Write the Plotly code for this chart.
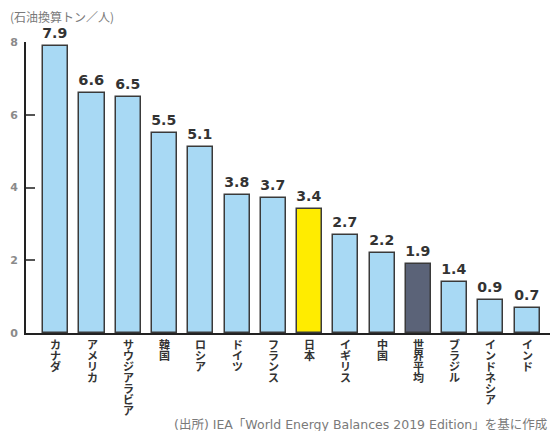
import plotly.graph_objects as go

# 一人当たり一次エネルギー消費量（石油換算トン／人）
countries = ["カナダ", "アメリカ", "サウジアラビア", "韓国", "ロシア", "ドイツ", "フランス",
             "日本", "イギリス", "中国", "世界平均", "ブラジル", "インドネシア", "インド"]
values = [7.9, 6.6, 6.5, 5.5, 5.1, 3.8, 3.7, 3.4, 2.7, 2.2, 1.9, 1.4, 0.9, 0.7]
y_ticks = [0, 2, 4, 6, 8]

BLUE = "#a8d9f4"
YELLOW = "#ffec00"
SLATE = "#5b6378"

colors = []
for c in countries:
    if c == "日本":
        colors.append(YELLOW)
    elif c == "世界平均":
        colors.append(SLATE)
    else:
        colors.append(BLUE)

xs = list(range(len(countries)))

fig = go.Figure()
fig.add_trace(go.Bar(
    x=xs,
    y=values,
    width=0.69,
    marker=dict(color=colors, line=dict(color="#3a3a3a", width=1.5)),
    text=[f"<b>{v:.1f}</b>" for v in values],
    textposition="outside",
    textfont=dict(family="DejaVu Sans", size=15, color="#333333"),
    cliponaxis=False,
    hoverinfo="skip",
))

# 国名は縦書き：1文字ずつ詰めて縦に並べる
annotations = []
CHAR_STEP = 11
for xi, name in zip(xs, countries):
    for k, ch in enumerate(name):
        annotations.append(dict(
            text=f"<b>{ch}</b>",
            x=xi, xref="x",
            y=0, yref="paper",
            yshift=-(11 + CHAR_STEP * k),
            xanchor="center", yanchor="middle",
            borderpad=0,
            showarrow=False,
            font=dict(family="Noto Sans CJK JP", size=11, color="#333333"),
        ))

annotations += [
    dict(
        text="(石油換算トン／人)",
        xref="paper", yref="paper",
        x=-0.035, y=1.0, yshift=26,
        xanchor="left", yanchor="middle",
        showarrow=False,
        font=dict(family="Noto Sans CJK JP", size=12, color="#7a7a7a"),
    ),
    dict(
        text="(出所) IEA「World Energy Balances 2019 Edition」を基に作成",
        xref="paper", yref="paper",
        x=1.0, xshift=-1, y=0, yshift=-91,
        xanchor="right", yanchor="middle",
        showarrow=False,
        font=dict(family="DejaVu Sans, Noto Sans CJK JP", size=12.5, color="#7a7a7a"),
    ),
]

fig.update_layout(
    width=550,
    height=431,
    margin=dict(l=26, r=0, t=42, b=98),
    paper_bgcolor="white",
    plot_bgcolor="white",
    showlegend=False,
    bargap=0,
    xaxis=dict(
        range=[-0.82, 13.63],
        tickmode="array",
        tickvals=xs,
        showticklabels=False,
        showline=True,
        linecolor="#222222",
        linewidth=2,
        ticks="",
        showgrid=False,
        zeroline=False,
        fixedrange=True,
        automargin=False,
    ),
    yaxis=dict(
        range=[0, 8],
        tickmode="array",
        tickvals=y_ticks,
        ticktext=[f"<b>{t}</b>" for t in y_ticks],
        tickfont=dict(family="DejaVu Sans", size=11, color="#8a8a8a"),
        showline=True,
        linecolor="#222222",
        linewidth=2,
        ticks="inside",
        ticklen=9,
        tickwidth=1.5,
        tickcolor="#555555",
        ticklabelstandoff=4,
        showgrid=False,
        zeroline=False,
        fixedrange=True,
        automargin=False,
    ),
    annotations=annotations,
)

fig.write_html("out.html")
